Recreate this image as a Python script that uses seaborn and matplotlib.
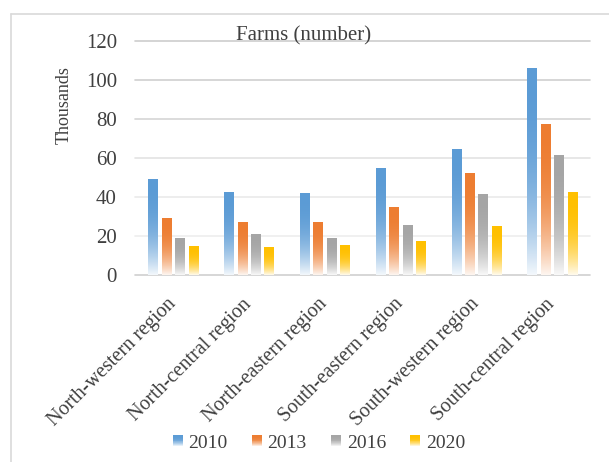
import numpy as np
import pandas as pd
import seaborn as sns
import matplotlib
matplotlib.use("Agg")
import matplotlib.pyplot as plt
from matplotlib.colors import to_rgb
from matplotlib.patches import Rectangle
from matplotlib.legend_handler import HandlerBase
from matplotlib.lines import Line2D
from matplotlib.font_manager import FontProperties

# ---- data (thousands of farms) ----
regions = ["North-western region", "North-central region", "North-eastern region",
           "South-eastern region", "South-western region", "South-central region"]
years = ["2010", "2013", "2016", "2020"]
farms_2010 = [48.9, 42.2, 41.7, 54.5, 64.2, 106.1]
farms_2013 = [29.0, 27.0, 27.0, 34.6, 52.0, 77.0]
farms_2016 = [18.7, 20.8, 18.7, 25.4, 41.1, 61.2]
farms_2020 = [14.6, 14.1, 15.1, 17.2, 24.9, 42.2]
y_ticks = [0, 20, 40, 60, 80, 100, 120]

palette = ["#5B9BD5", "#ED7D31", "#A5A5A5", "#FFC000"]
TEXT = "#404040"
SERIF = ["Liberation Serif", "DejaVu Serif"]

series = [farms_2010, farms_2013, farms_2016, farms_2020]
df = pd.DataFrame({
    "region": np.tile(regions, len(years)),
    "year": np.repeat(years, len(regions)),
    "farms": np.concatenate(series),
})


def fade(rgb, t):
    """Blend a colour towards white; t=0 at the top of a bar, 1 at its base."""
    k = 0.93 * t ** 2.5
    return np.asarray(rgb) * (1 - k) + k


sns.set_theme(style="white")
plt.rcParams["font.family"] = SERIF
plt.rcParams["font.serif"] = SERIF

fig = plt.figure(figsize=(6.09, 4.62), dpi=100)
ax = fig.add_axes([135 / 609, 1 - 275 / 462, 455 / 609, 234 / 462])

sns.barplot(data=df, x="region", y="farms", hue="year", palette=palette,
            width=0.71, gap=0.33, errorbar=None, legend=False, ax=ax,
            saturation=1)

# replace flat fills with a vertical fade to white
ts = np.linspace(0, 1, 256)
for p in list(ax.patches):
    x0, y0 = p.get_x(), p.get_y()
    w, h = p.get_width(), p.get_height()
    if h <= 0:
        continue
    rgb = to_rgb(p.get_facecolor())
    img = np.array([fade(rgb, t) for t in ts])[:, None, :]
    ax.imshow(img, extent=(x0, x0 + w, y0, y0 + h), origin="upper",
              aspect="auto", interpolation="bilinear", zorder=2)
    p.set_visible(False)

ax.set_xlim(-0.5, len(regions) - 0.5)
ax.set_ylim(0, 120)
ax.set_yticks(y_ticks)
ax.set_xlabel("")
ax.set_ylabel("")
for s in ax.spines.values():
    s.set_visible(False)

ax.yaxis.grid(True, linewidth=1.2, zorder=0)
ax.set_axisbelow(True)
grid_cols = ["#D0D0D0", "#EDEDED", "#EAEAEA", "#E3E3E3", "#D6D6D6", "#CFCFCF", "#CDCDCD"]
for gl, c in zip(ax.get_ygridlines(), grid_cols):
    gl.set_color(c)
    gl.set_clip_on(False)

ax.tick_params(axis="y", length=0, pad=13, labelsize=15, labelcolor=TEXT)
ax.tick_params(axis="x", length=0, pad=19, labelsize=14.5, labelcolor=TEXT)
for lab in ax.get_xticklabels():
    lab.set_rotation(45)
    lab.set_ha("right")
    lab.set_va("center")
    lab.set_rotation_mode("anchor")

# titles
fig.text(304 / 609, 1 - 40 / 462, "Farms (number)", ha="center", va="baseline",
         fontsize=15, color=TEXT)
fig.text(64 / 609, 1 - 105 / 462, "Thousands", rotation=90, ha="center",
         va="center", fontsize=13, color=TEXT)


# legend with faded swatches
class FadeHandler(HandlerBase):
    def create_artists(self, legend, orig_handle, xdescent, ydescent,
                       width, height, fontsize, trans):
        rgb = to_rgb(orig_handle.get_facecolor())
        n = 12
        arts = []
        for i in range(n):
            t = (i + 0.5) / n
            yb = -ydescent + height * (1 - (i + 1) / n)
            arts.append(Rectangle((-xdescent, yb), width, height / n + 0.05,
                                  facecolor=fade(rgb, t), edgecolor="none",
                                  transform=trans))
        return arts


legend_font = FontProperties(family=SERIF, size=14)
handles = [Rectangle((0, 0), 1, 1, facecolor=c) for c in palette]
leg = fig.legend(handles, years, handler_map={Rectangle: FadeHandler()},
                 loc="center", bbox_to_anchor=(319 / 609, 1 - 443 / 462), ncol=4,
                 frameon=False, prop=legend_font, labelcolor=TEXT,
                 handlelength=0.52, handleheight=0.52, handletextpad=0.28,
                 columnspacing=1.25, borderpad=0, borderaxespad=0)
for t in leg.get_texts():
    t.set_fontproperties(legend_font)

# outer chart frame
fc = "#D9D9D9"
fig.add_artist(Line2D([11 / 609, 1], [1 - 14 / 462] * 2, transform=fig.transFigure,
                      color=fc, lw=1.2))
fig.add_artist(Line2D([11 / 609] * 2, [0, 1 - 14 / 462], transform=fig.transFigure,
                      color=fc, lw=1.2))

fig.savefig("out.png", dpi=100)
